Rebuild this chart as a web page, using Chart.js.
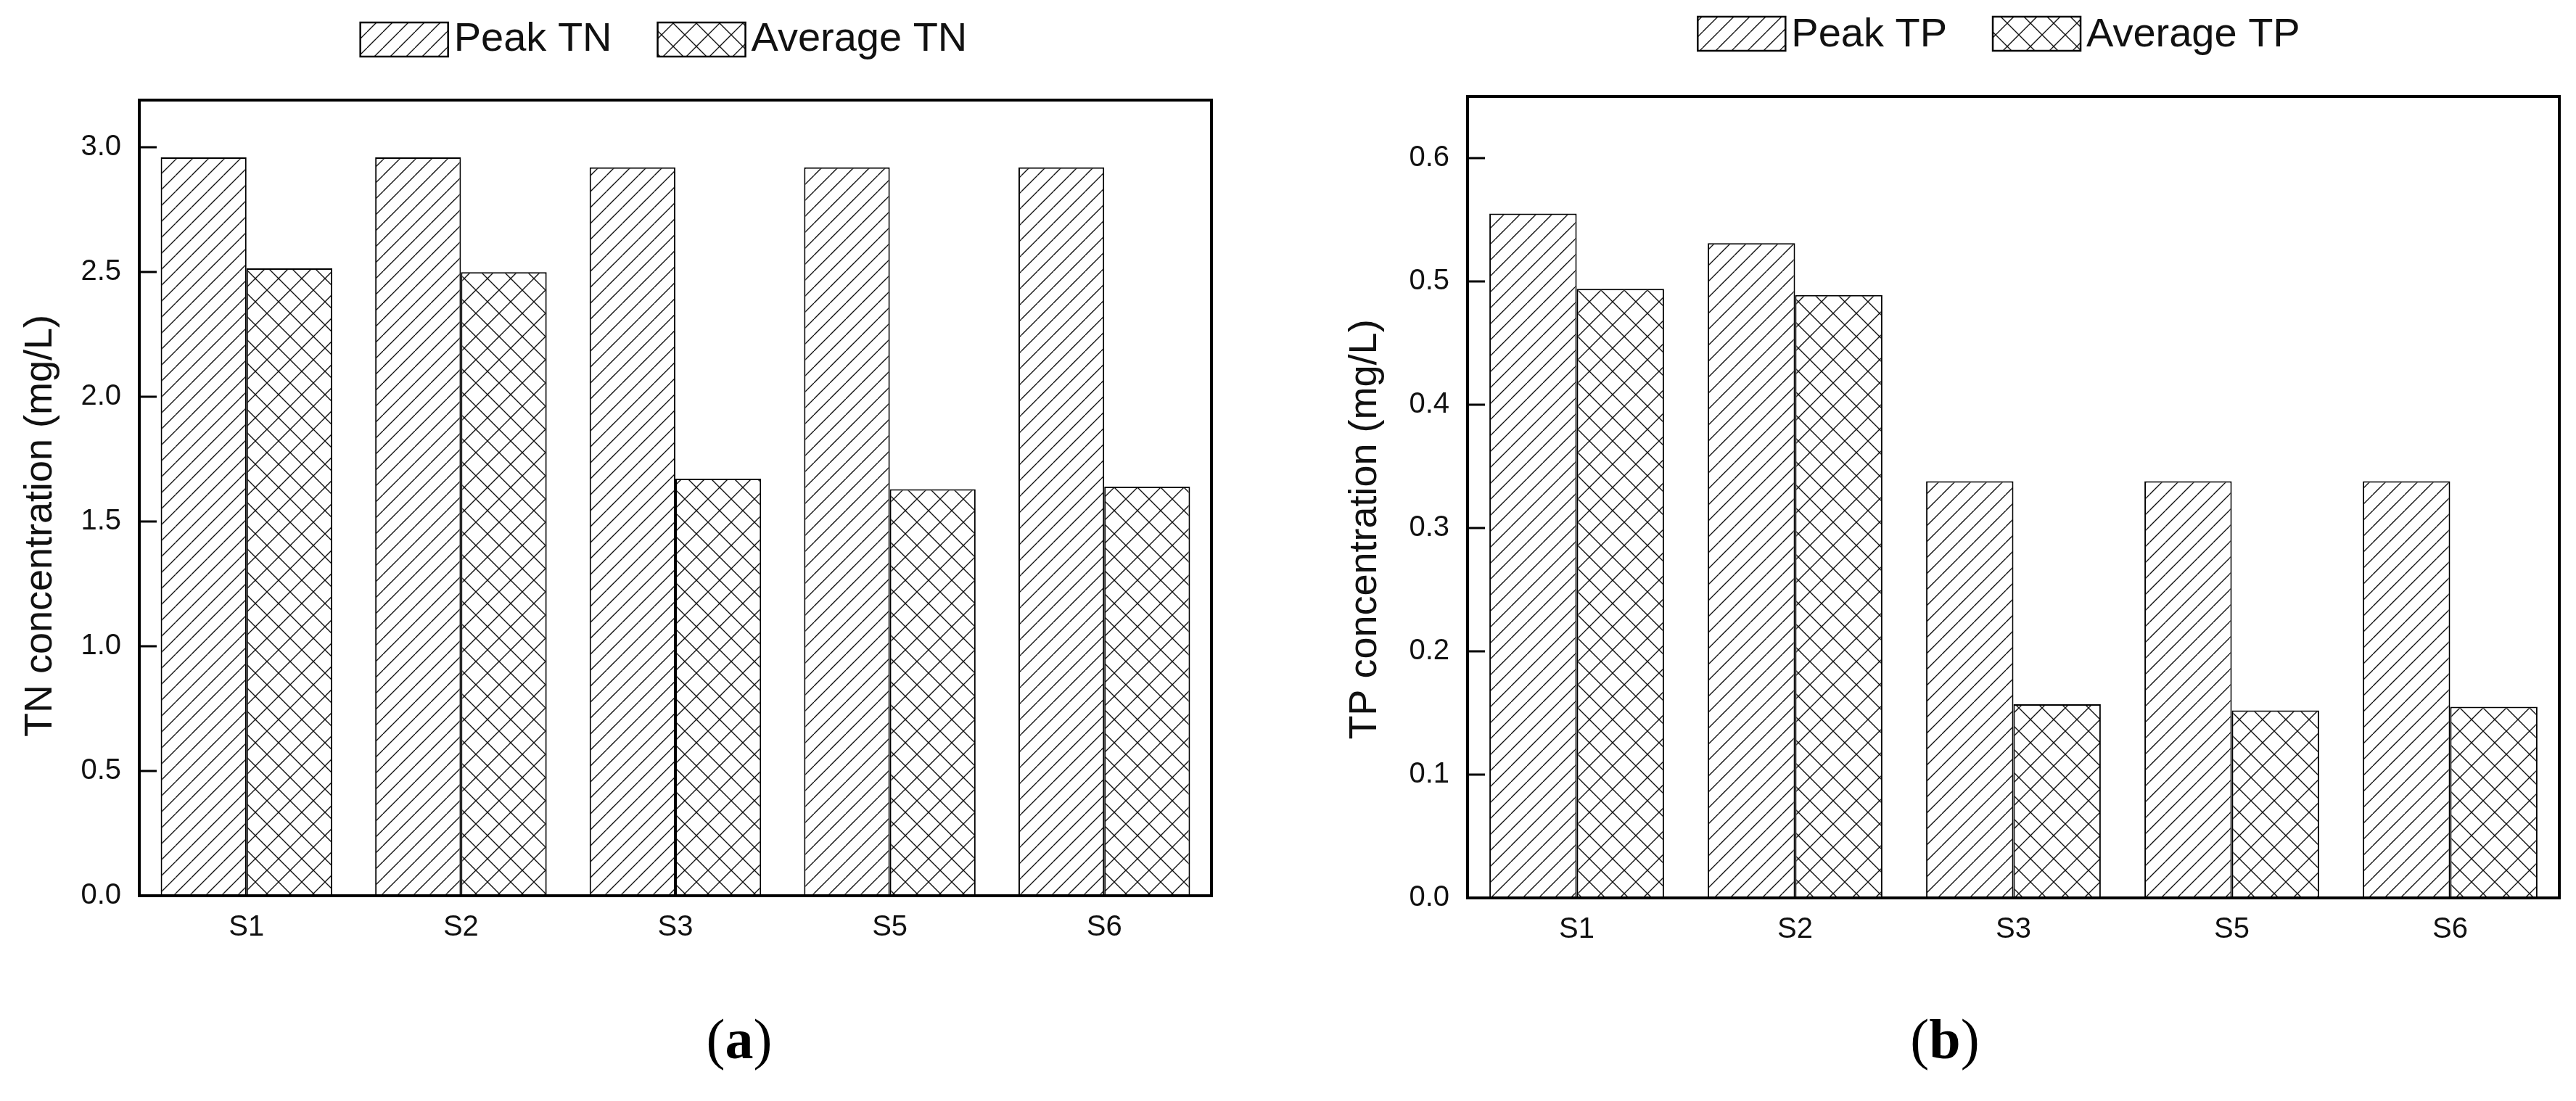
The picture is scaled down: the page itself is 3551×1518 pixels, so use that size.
<!DOCTYPE html>
<html>
<head>
<meta charset="utf-8">
<script src="https://cdn.jsdelivr.net/npm/chart.js@4.4.1/dist/chart.umd.min.js"></script>
<style>
  html, body { margin: 0; padding: 0; background: #fff; width: 3551px; height: 1518px; overflow: hidden; }
  canvas { position: absolute; top: 0; }
  #cTN { left: 0; }
  #cTP { left: 1775px; }
  .lab { position: absolute; top: 1391px; width: 200px; text-align: center;
         font-family: "Liberation Serif", "Times New Roman", serif; font-size: 78px; line-height: 84px; color: #000; }
</style>
</head>
<body>
<canvas id="cTN" width="1775" height="1340"></canvas>
<canvas id="cTP" width="1776" height="1340"></canvas>
<div class="lab" style="left:919px">(<b>a</b>)</div>
<div class="lab" style="left:2581px">(<b>b</b>)</div>
<script>
(function(){
const sites = ['S1', 'S2', 'S3', 'S5', 'S6'];
const peakTN = [2.96, 2.96, 2.92, 2.92, 2.92];
const avgTN = [2.515, 2.50, 1.672, 1.63, 1.64];
const peakTP = [0.555, 0.531, 0.338, 0.338, 0.338];
const avgTP = [0.494, 0.489, 0.157, 0.152, 0.155];
const ticksTN = [0, 0.5, 1.0, 1.5, 2.0, 2.5, 3.0];
const ticksTP = [0, 0.1, 0.2, 0.3, 0.4, 0.5, 0.6];

const SANS = '"Liberation Sans", Arial, sans-serif';
Chart.defaults.font.family = SANS;
Chart.defaults.color = '#111';

// hatch fills: single diagonal for peak, diamond cross for average
function hatch(size, cross) {
  const c = document.createElement('canvas');
  c.width = c.height = size;
  const g = c.getContext('2d');
  g.fillStyle = '#fff';
  g.fillRect(0, 0, size, size);
  g.strokeStyle = '#111';
  g.lineWidth = 1.4;
  g.beginPath();
  [-size, 0, size].forEach(o => {
    g.moveTo(o, size); g.lineTo(o + size, 0);
    if (cross) { g.moveTo(o, 0); g.lineTo(o + size, size); }
  });
  g.stroke();
  return g.createPattern(c, 'repeat');
}

// box around plot, inward y ticks, y title, legend above
const frame = {
  id: 'frame',
  afterDatasetsDraw(chart, args, opts) {
    const {ctx, chartArea: a} = chart;
    const y = chart.scales.y;
    ctx.save();
    ctx.strokeStyle = '#000';
    ctx.lineWidth = 4;
    ctx.strokeRect(a.left, a.top, a.right - a.left, a.bottom - a.top);
    ctx.lineWidth = 3;
    ctx.beginPath();
    y.ticks.forEach(t => {
      const py = Math.round(y.getPixelForValue(t.value));
      ctx.moveTo(a.left, py);
      ctx.lineTo(a.left + 24, py);
    });
    ctx.stroke();

    // axis title
    ctx.save();
    ctx.translate(opts.titleX, opts.titleY);
    ctx.rotate(-Math.PI / 2);
    ctx.font = '54px ' + SANS;
    ctx.fillStyle = '#111';
    ctx.textAlign = 'center';
    ctx.textBaseline = 'middle';
    ctx.fillText(opts.title, 0, 0);
    ctx.restore();

    // legend
    ctx.font = '56px ' + SANS;
    const boxW = 121, boxH = 47, gap = 8, itemGap = 63;
    const items = chart.data.datasets.map(d => ({d, w: ctx.measureText(d.label).width}));
    const total = items.reduce((s, it) => s + boxW + gap + it.w, 0) + itemGap * (items.length - 1);
    let x = (a.left + a.right) / 2 + opts.shift - total / 2;
    const top = opts.top;
    items.forEach(it => {
      ctx.fillStyle = it.d.backgroundColor;
      ctx.fillRect(x, top, boxW, boxH);
      ctx.lineWidth = 2.5;
      ctx.strokeRect(x, top, boxW, boxH);
      ctx.fillStyle = '#111';
      ctx.textBaseline = 'alphabetic';
      ctx.textAlign = 'left';
      ctx.fillText(it.d.label, x + boxW + gap, top + boxH - opts.base);
      x += boxW + gap + it.w + itemGap;
    });
    ctx.restore();
  }
};

function makeChart(id, peak, avg, names, yTicks, ymax, title, lay) {
  return new Chart(document.getElementById(id), {
    type: 'bar',
    data: {
      labels: sites,
      datasets: [
        {label: names[0], data: peak, backgroundColor: hatch(22, false), borderColor: '#000', borderWidth: 2},
        {label: names[1], data: avg, backgroundColor: hatch(32, true), borderColor: '#000', borderWidth: 2}
      ]
    },
    options: {
      responsive: false,
      animation: false,
      devicePixelRatio: 1,
      layout: {padding: {top: lay.top, right: lay.right, left: 0, bottom: 0}},
      datasets: {bar: {categoryPercentage: 0.8, barPercentage: 1}},
      plugins: {
        legend: {display: false},
        tooltip: {enabled: false},
        frame: {top: lay.legendTop, shift: lay.shift, base: lay.base, title: title, titleX: lay.titleX, titleY: lay.titleY}
      },
      scales: {
        x: {
          grid: {display: false, drawTicks: false},
          border: {display: false},
          ticks: {font: {size: 40}, padding: 20, color: '#111'},
          afterFit: s => { s.height = lay.xHeight; }
        },
        y: {
          min: 0,
          max: ymax,
          grid: {display: false, drawTicks: false},
          border: {display: false},
          afterBuildTicks: s => { s.ticks = yTicks.map(v => ({value: v})); },
          ticks: {font: {size: 40}, padding: 25, color: '#111', callback: v => Number(v).toFixed(1)},
          afterFit: s => { s.width = lay.yWidth; }
        }
      }
    },
    plugins: [frame]
  });
}

makeChart('cTN', peakTN, avgTN, ['Peak TN', 'Average TN'], ticksTN, 3.19, 'TN concentration (mg/L)',
  {top: 138, right: 105, xHeight: 105, yWidth: 192, titleX: 56, titleY: 725, legendTop: 31, shift: -16, base: 8});
makeChart('cTP', peakTP, avgTP, ['Peak TP', 'Average TP'], ticksTP, 0.65, 'TP concentration (mg/L)',
  {top: 133, right: 23, xHeight: 102, yWidth: 248, titleX: 107, titleY: 730, legendTop: 23, shift: -20, base: 6});
})();
</script>
</body>
</html>
